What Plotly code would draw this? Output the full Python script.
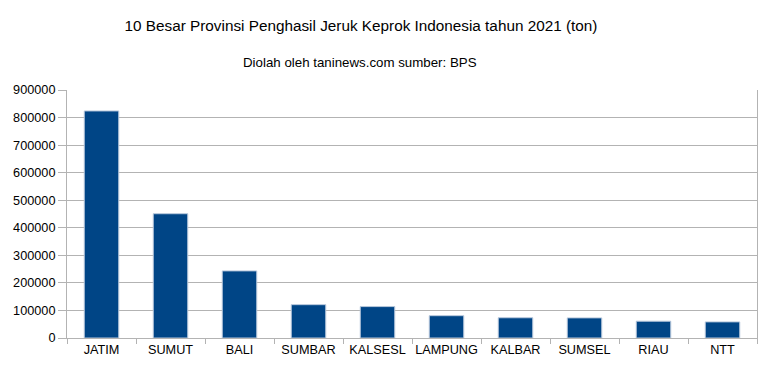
import plotly.graph_objects as go

provinces = ["JATIM", "SUMUT", "BALI", "SUMBAR", "KALSESL", "LAMPUNG", "KALBAR", "SUMSEL", "RIAU", "NTT"]
production = [824000, 451000, 243500, 121000, 114000, 81000, 73500, 73000, 61000, 58500]
y_ticks = [0, 100000, 200000, 300000, 400000, 500000, 600000, 700000, 800000, 900000]

fig = go.Figure(go.Bar(
    x=provinces, y=production,
    marker=dict(color="#004586", line=dict(color="#b8c8dc", width=1)),
    width=0.5,
))

grid = "#b3b3b3"
fig.update_layout(
    width=773, height=371,
    margin=dict(l=67, r=16, t=90, b=33),
    paper_bgcolor="white", plot_bgcolor="white",
    font=dict(family="Liberation Sans", size=12.7, color="#000000"),
    showlegend=False,
    title=dict(text="10 Besar Provinsi Penghasil Jeruk Keprok Indonesia tahun 2021 (ton)",
               x=361/773, xanchor="center", y=1-26/371, yanchor="middle",
               font=dict(size=15.3, color="#000000")),
    annotations=[dict(text="Diolah oleh taninews.com sumber: BPS", xref="paper", yref="paper",
                      x=(360-67)/(773-67-16), y=(338-62)/248, xanchor="center", yanchor="middle",
                      showarrow=False, font=dict(size=13.3, color="#000000"))],
    xaxis=dict(showgrid=False, showline=True, linecolor=grid, linewidth=1,
               ticks="outside", tickson="boundaries", ticklen=5, tickcolor=grid,
               tickangle=0, automargin=False, tickfont=dict(size=12.7)),
    yaxis=dict(range=[0, 900000], tickvals=y_ticks, ticktext=[str(v) for v in y_ticks],
               showgrid=True, gridcolor=grid, gridwidth=1,
               showline=True, linecolor=grid, linewidth=1, mirror=True,
               ticks="outside", ticklen=8, tickcolor=grid, zeroline=False,
               automargin=False, tickfont=dict(size=12.7)),
    bargap=0.5,
)

fig.write_html("out.html", config={"displayModeBar": False},
               post_script="document.body.style.margin='0';document.body.style.overflow='hidden';")
